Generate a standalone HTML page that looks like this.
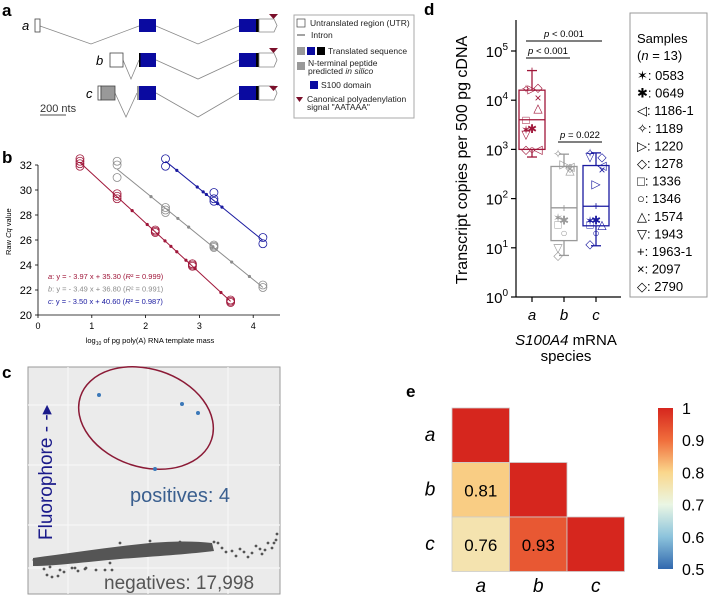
<!DOCTYPE html>
<html><head><meta charset="utf-8"><style>
body{margin:0;background:#fff;}
svg{display:block;font-family:"Liberation Sans",Arial,sans-serif;}
</style></head><body>
<svg id="fig" width="708" height="596" viewBox="0 0 708 596" xmlns="http://www.w3.org/2000/svg">
<g font-weight="bold" font-size="17" fill="#000">
<text x="2" y="16">a</text>
<text x="2" y="163">b</text>
<text x="2" y="378">c</text>
<text x="424" y="15">d</text>
<text x="406" y="397">e</text>
</g>

<g stroke-width="0.8">
<g fill="none" stroke="#888">
<polyline points="40,26 91,44 139,26"/><polyline points="156,26 198,44 239,26"/>
<polyline points="123,60 131,79 139,60"/><polyline points="156,60 198,79 239,60"/>
<polyline points="115,93 126,117 137,93"/><polyline points="156,93 198,117 239,93"/>
</g>
<text x="22" y="30" font-size="13" font-style="italic">a</text>
<text x="96" y="65" font-size="13" font-style="italic">b</text>
<text x="86" y="98" font-size="13" font-style="italic">c</text>
<rect x="35" y="19" width="5" height="13" fill="#fff" stroke="#444"/>
<rect x="110" y="53" width="13" height="14" fill="#fff" stroke="#444"/>
<rect x="98" y="86" width="3" height="14" fill="#fff" stroke="#444"/>
<rect x="101" y="86" width="14" height="14" fill="#999" stroke="#444"/>
<g>
<rect x="139" y="19" width="17" height="13" fill="#0a0aa0"/>
<rect x="139" y="53" width="17" height="14" fill="#0a0aa0"/><rect x="139" y="53" width="1.5" height="14" fill="#000"/>
<rect x="137" y="86" width="2" height="14" fill="#999"/><rect x="139" y="86" width="17" height="14" fill="#0a0aa0"/>
</g>
<g>
<rect x="239" y="19" width="17" height="13" fill="#0a0aa0"/><rect x="256" y="19" width="3" height="13" fill="#000"/><path d="M259,19 H274 L277,25.5 L274,32 H259Z" fill="#fff" stroke="#888"/>
<rect x="239" y="53" width="17" height="14" fill="#0a0aa0"/><rect x="256" y="53" width="3" height="14" fill="#000"/><path d="M259,53 H274 L277,60 L274,67 H259Z" fill="#fff" stroke="#888"/>
<rect x="239" y="86" width="17" height="14" fill="#0a0aa0"/><rect x="256" y="86" width="3" height="14" fill="#000"/><path d="M259,86 H274 L277,93 L274,100 H259Z" fill="#fff" stroke="#888"/>
</g>
<g fill="#7a0f2a"><path d="M269,14 h9 l-4.5,5z"/><path d="M269,48 h9 l-4.5,5z"/><path d="M269,86 h9 l-4.5,5z"/></g>
<line x1="40" y1="115" x2="66" y2="115" stroke="#888" stroke-width="1.5"/>
<text x="40" y="112" font-size="11" fill="#333">200 nts</text>
</g>
<g font-size="8.5" fill="#222">
<rect x="294" y="15" width="120" height="103" fill="#fff" stroke="#aaa"/>
<rect x="297" y="19" width="8" height="8" fill="#fff" stroke="#444" stroke-width="0.7"/><text x="310" y="26">Untranslated region (UTR)</text>
<line x1="297" y1="35" x2="305" y2="35" stroke="#444"/><text x="311" y="38">Intron</text>
<rect x="297" y="47" width="8" height="8" fill="#999"/><rect x="307" y="47" width="8" height="8" fill="#0a0aa0"/><rect x="317" y="47" width="8" height="8" fill="#000"/><text x="328" y="54">Translated sequence</text>
<rect x="297" y="62" width="8" height="8" fill="#999"/><text x="308" y="66">N-terminal peptide</text><text x="308" y="74">predicted <tspan font-style="italic">in silico</tspan></text>
<rect x="310" y="81" width="8" height="8" fill="#0a0aa0"/><text x="321" y="88">S100 domain</text>
<path d="M296,97 h7 l-3.5,5z" fill="#7a0f2a"/><text x="307" y="102">Canonical polyadenylation</text><text x="307" y="110">signal "AATAAA"</text>
</g>

<g id="panelB"></g>

<g>
<rect x="28" y="367" width="252" height="227" fill="#ebebeb" stroke="#999" stroke-width="1"/>
<g stroke="#f7f7f7" stroke-width="1.2">
<line x1="68" y1="367" x2="68" y2="594"/><line x1="148" y1="367" x2="148" y2="594"/><line x1="228" y1="367" x2="228" y2="594"/>
<line x1="28" y1="405" x2="280" y2="405"/><line x1="28" y1="465" x2="280" y2="465"/><line x1="28" y1="525" x2="280" y2="525"/><line x1="28" y1="568" x2="280" y2="568"/>
</g>
<path d="M33,558 C70,553 110,547 150,543 C175,541 195,541 212,543 L214,551 C190,554 160,556 120,559 C85,562 55,566 33,566Z" fill="#555"/>
<g id="negDots" fill="#555"></g>
<ellipse cx="146" cy="418" rx="69" ry="49" transform="rotate(18 146 418)" fill="none" stroke="#8b1a36" stroke-width="1.5"/>
<g id="posDots" fill="#3b78b8"></g>
<text x="130" y="502" font-size="20" fill="#3a5f8f">positives: 4</text>
<text x="104" y="589" font-size="19" fill="#555">negatives: 17,998</text>
<text transform="translate(52,540) rotate(-90)" font-size="19" fill="#1a1a8a">Fluorophore - -▸</text>
</g>

<g id="panelD"></g>
<g id="panelE"></g>
</svg>
<script>
const NS="http://www.w3.org/2000/svg";
function mk(p,t,a,txt){const e=document.createElementNS(NS,t);for(const k in a)e.setAttribute(k,a[k]);if(txt!==undefined)e.textContent=txt;p.appendChild(e);return e;}

/* ---------- Panel b data ---------- */
const bXTicks=[0,1,2,3,4];
const bYTicks=[20,22,24,26,28,30,32];
const bSeriesNames=["a","b","c"];
const bSlopes=[-3.97,-3.49,-3.50];
const bIntercepts=[35.30,36.80,40.60];
const bColors=["#a0173a","#8c8c8c","#1a1aa0"];
const bCircX_a=[0.78,0.78,0.78,0.78,1.47,1.47,1.47,2.18,2.18,2.18,2.87,2.87,2.87,3.58,3.58,3.58];
const bCircY_a=[32.5,32.3,32.1,31.9,29.7,29.5,29.3,26.8,26.7,26.6,24.1,24.0,23.9,21.2,21.1,21.0];
const bCircX_b=[1.47,1.47,1.47,2.37,2.37,2.37,3.27,3.27,3.27,4.18,4.18];
const bCircY_b=[32.3,32.0,31.0,28.6,28.4,28.2,25.6,25.5,25.4,22.4,22.2];
const bCircX_c=[2.37,2.37,3.27,3.27,3.27,4.18,4.18];
const bCircY_c=[32.5,31.9,29.8,29.3,29.1,26.2,25.7];
const bDotX_a=[1.75,2.03,2.36,2.47,2.58,2.75,2.92,3.4];
const bDotX_b=[2.1,2.6,2.8,3.25,3.6,3.93];
const bDotX_c=[2.58,2.96,3.07,3.13,3.34,3.42];
const bLineRange=[[0.78,3.58],[1.47,4.18],[2.37,4.18]];
const bR2=["0.999","0.991","0.987"];
(function(){
 const g=document.getElementById("panelB");
 const X=v=>38+v*53.8, Y=v=>315-(v-20)*12.5;
 const ax=mk(g,"g",{});
 
 
 mk(ax,"line",{x1:38,y1:165,x2:38,y2:315,stroke:"#000","stroke-width":0.8});
 mk(ax,"line",{x1:38,y1:315,x2:280,y2:315,stroke:"#000","stroke-width":0.8});
 bYTicks.forEach(v=>{mk(ax,"line",{x1:35,x2:38,y1:Y(v),y2:Y(v),stroke:"#000","stroke-width":0.8});
  mk(ax,"text",{x:32,y:Y(v)+4,"font-size":11,"text-anchor":"end"},v);});
 bXTicks.forEach(v=>{mk(ax,"line",{x1:X(v),x2:X(v),y1:315,y2:318,stroke:"#000","stroke-width":0.8});
  mk(ax,"text",{x:X(v),y:329,"font-size":9,"text-anchor":"middle"},v);});
 const yl=mk(ax,"text",{transform:"translate(11,255) rotate(-90)","font-size":7.5},"Raw ");
 mk(yl,"tspan",{"font-style":"italic"},"Cq");mk(yl,"tspan",{}," value");
 const xl=mk(ax,"text",{x:150,y:343,"font-size":7.5,"text-anchor":"middle"},"log");
 mk(xl,"tspan",{"font-size":5,dy:2},"10");mk(xl,"tspan",{dy:-2}," of pg poly(A) RNA template mass");
 const circX=[bCircX_a,bCircX_b,bCircX_c], circY=[bCircY_a,bCircY_b,bCircY_c], dotX=[bDotX_a,bDotX_b,bDotX_c];
 bSeriesNames.forEach((n,i)=>{
  const s=mk(g,"g",{});
  
  
  const f=x=>bSlopes[i]*x+bIntercepts[i];
  const r=bLineRange[i];
  mk(s,"line",{x1:X(r[0]),y1:Y(f(r[0])),x2:X(r[1]),y2:Y(f(r[1])),stroke:bColors[i],"stroke-width":1});
  circX[i].forEach((x,j)=>mk(s,"circle",{cx:X(x),cy:Y(circY[i][j]),r:4,fill:"none",stroke:bColors[i],"stroke-width":0.8}));
  dotX[i].forEach(x=>mk(s,"circle",{cx:X(x),cy:Y(f(x)),r:1.6,fill:bColors[i]}));
  const t=mk(s,"text",{x:48,y:279+i*12.5,"font-size":7.5,fill:bColors[i]});
  mk(t,"tspan",{"font-style":"italic"},n);
  mk(t,"tspan",{},": y = - "+Math.abs(bSlopes[i]).toFixed(2)+" x + "+bIntercepts[i].toFixed(2)+" (");
  mk(t,"tspan",{"font-style":"italic"},"R");
  mk(t,"tspan",{},"² = "+bR2[i]+")");
 });
})();

/* ---------- Panel c data ---------- */
const posX=[99,182,198,155];
const posY=[395,404,413,469];
const negX=[34,38,44,47,50,55,60,64,72,78,86,96,110,120,135,150,160,170,180,190,200,205,210,214,218,222,226,232,236,240,244,248,252,256,260,262,265,268,272,274,276,277,52,58,75,85,105,112];
const negY=[560,562,569,575,567,563,570,572,568,571,568,570,563,543,547,541,545,545,542,552,545,548,550,542,543,548,552,551,556,549,552,557,553,546,549,554,550,543,548,543,540,534,577,576,568,569,570,570];
(function(){
 const pg=document.getElementById("posDots");
 posX.forEach((x,i)=>{const c=mk(pg,"circle",{cx:x,cy:posY[i],r:2});
  
  });
 const ng=document.getElementById("negDots");
 negX.forEach((x,i)=>{const c=mk(ng,"circle",{cx:x,cy:negY[i],r:1.4});
  
  });
})();

/* ---------- Panel d data ---------- */
const dCategories=["a","b","c"];
const dColors=["#a0173a","#999999","#1a1aa0"];
const dMedian=[4000,65,70];
const dQ1=[1000,14,28];
const dQ3=[16000,450,470];
const dWhiskLo=[700,7,11];
const dWhiskHi=[40000,800,850];
const dYTickExp=[0,1,2,3,4,5];
const dSampleNames=["0583","0649","1186-1","1189","1220","1278","1336","1346","1574","1943","1963-1","2097","2790"];
const dSampleGlyphs=["✶","✱","◁","✧","▷","◇","□","○","△","▽","+","×","◇"];
const dVals_a=[2500,2600,1000,17000,17000,18000,4000,1000,7000,2000,40000,11000,1000];
const dVals_b=[40,36,450,800,500,430,30,20,380,10,65,400,7];
const dVals_c=[35,36,470,850,200,700,30,20,30,700,70,380,12];
const dPvals=["p < 0.001","p < 0.001","p = 0.022"];
(function(){
 const g=document.getElementById("panelD");
 const X=i=>532+i*32, Y=v=>297-Math.log10(v)*49.2;
 const ax=mk(g,"g",{});
 
 
 mk(ax,"line",{x1:516,y1:20,x2:516,y2:297,stroke:"#000","stroke-width":1.2});
 mk(ax,"line",{x1:516,y1:297,x2:621,y2:297,stroke:"#000","stroke-width":1.2});
 dYTickExp.forEach(e=>{const y=Y(Math.pow(10,e));
  mk(ax,"line",{x1:511,x2:516,y1:y,y2:y,stroke:"#000","stroke-width":1.2});
  const t=mk(ax,"text",{x:508,y:y+6,"font-size":15,"text-anchor":"end"},"10");
  mk(t,"tspan",{"font-size":10,dy:-7},e);});
 dCategories.forEach((c,i)=>{mk(ax,"line",{x1:X(i),x2:X(i),y1:297,y2:302,stroke:"#000","stroke-width":1.2});
  mk(ax,"text",{x:X(i),y:320,"font-size":15,"font-style":"italic","text-anchor":"middle"},c);});
 mk(ax,"text",{transform:"translate(467,160) rotate(-90)","font-size":16,"text-anchor":"middle"},"Transcript copies per 500 pg cDNA");
 const xl=mk(ax,"text",{x:566,y:345,"font-size":15,"text-anchor":"middle"});
 mk(xl,"tspan",{"font-style":"italic"},"S100A4");mk(xl,"tspan",{}," mRNA");
 mk(ax,"text",{x:566,y:361,"font-size":15,"text-anchor":"middle"},"species");
 const vals=[dVals_a,dVals_b,dVals_c];
 dCategories.forEach((c,i)=>{
  const s=mk(g,"g",{stroke:dColors[i],fill:"none","stroke-width":1.3});
  
  
  const x=X(i),w=26;
  mk(s,"line",{x1:x,x2:x,y1:Y(dWhiskHi[i]),y2:Y(dQ3[i])});
  mk(s,"line",{x1:x,x2:x,y1:Y(dQ1[i]),y2:Y(dWhiskLo[i])});
  mk(s,"line",{x1:x-5,x2:x+5,y1:Y(dWhiskHi[i]),y2:Y(dWhiskHi[i])});
  mk(s,"line",{x1:x-5,x2:x+5,y1:Y(dWhiskLo[i]),y2:Y(dWhiskLo[i])});
  mk(s,"rect",{x:x-w/2,y:Y(dQ3[i]),width:w,height:Y(dQ1[i])-Y(dQ3[i])});
  mk(s,"line",{x1:x-w/2,x2:x+w/2,y1:Y(dMedian[i]),y2:Y(dMedian[i])});
  vals[i].forEach((v,j)=>{const off=((j%3)-1)*6;
   const t=mk(s,"text",{x:x+off,y:Y(v)+4,"font-size":12,"text-anchor":"middle",fill:dColors[i],stroke:"none"},dSampleGlyphs[j]);
   
   });
 });
 const br=[[0,2,41],[0,1,58],[1,2,142]];
 br.forEach((b,k)=>{const s=mk(g,"g",{});
  
  
  mk(s,"line",{x1:X(b[0])-6,x2:X(b[1])+6,y1:b[2],y2:b[2],stroke:"#000","stroke-width":1});
  const t=mk(s,"text",{x:(X(b[0])+X(b[1]))/2,y:b[2]-4,"font-size":9.5,"text-anchor":"middle"});
  mk(t,"tspan",{"font-style":"italic"},dPvals[k].slice(0,1));mk(t,"tspan",{},dPvals[k].slice(1));});
 const lg=mk(g,"g",{});
 
 
 mk(lg,"rect",{x:630,y:13,width:77,height:284,fill:"#fff",stroke:"#999"});
 mk(lg,"text",{x:637,y:43,"font-size":13},"Samples");
 const n=mk(lg,"text",{x:637,y:60,"font-size":13},"(");mk(n,"tspan",{"font-style":"italic"},"n");mk(n,"tspan",{}," = 13)");
 dSampleNames.forEach((s,j)=>{const t=mk(lg,"text",{x:637,y:80+j*17.6,"font-size":13},dSampleGlyphs[j]+": "+s);
  
  });
})();

/* ---------- Panel e data ---------- */
const eLabels=["a","b","c"];
const eRowIdx=[0,1,1,2,2,2];
const eColIdx=[0,0,1,0,1,2];
const eValues=[1,0.81,1,0.76,0.93,1];
const eCbTicks=[0.5,0.6,0.7,0.8,0.9,1];
function cmap(v){
 const stops=[[0.5,[49,104,174]],[0.6,[140,195,220]],[0.7,[234,246,228]],[0.8,[250,215,140]],[0.9,[240,110,60]],[1,[214,38,30]]];
 for(let i=0;i<stops.length-1;i++){const a=stops[i],b=stops[i+1];
  if(v<=b[0]){const t=(v-a[0])/(b[0]-a[0]);return "rgb("+a[1].map((c,k)=>Math.round(c+(b[1][k]-c)*t)).join(",")+")";}}
 return "rgb(214,38,30)";}
(function(){
 const g=document.getElementById("panelE");
 const cx=i=>452+i*57.5, cy=i=>408+i*54.5;
 eValues.forEach((v,k)=>{const r=eRowIdx[k],c=eColIdx[k];
  const cell=mk(g,"rect",{x:cx(c),y:cy(r),width:57.5,height:54.5,fill:cmap(v),stroke:"#ccc","stroke-width":0.8});
  
  
  if(r!==c)mk(g,"text",{x:cx(c)+28.75,y:cy(r)+34,"font-size":17,"text-anchor":"middle"},v.toFixed(2));});
 eLabels.forEach((l,i)=>{
  mk(g,"text",{x:430,y:cy(i)+33,"font-size":19,"font-style":"italic","text-anchor":"middle"},l);
  mk(g,"text",{x:cx(i)+28.75,y:592,"font-size":19,"font-style":"italic","text-anchor":"middle"},l);});
 const defs=mk(g,"defs",{});
 const lgd=mk(defs,"linearGradient",{id:"cbg",x1:0,y1:1,x2:0,y2:0});
 for(let i=0;i<=10;i++){const v=0.5+i*0.05;mk(lgd,"stop",{offset:(i*10)+"%","stop-color":cmap(v)});}
 const cb=mk(g,"rect",{x:658,y:408,width:15,height:161,fill:"url(#cbg)"});
 
 
 eCbTicks.forEach(t=>{const y=569-(t-0.5)/0.5*161;
  mk(g,"text",{x:682,y:y+6,"font-size":16},String(t));});
})();
</script>
</body></html>
